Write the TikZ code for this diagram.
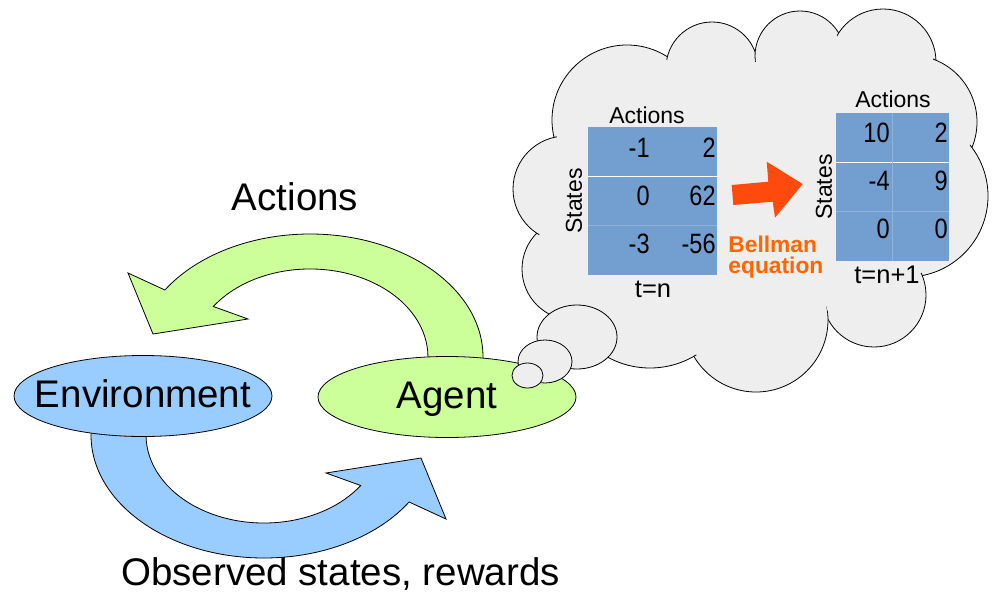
\documentclass[tikz,border=0pt]{standalone}
\usepackage{fontspec}
\setmainfont{Liberation Sans}
\newfontfamily\cellfont[FakeStretch=0.84]{Liberation Sans}
\usetikzlibrary{shapes.geometric,positioning,calc}

\definecolor{agentgreen}{HTML}{CCFF99}
\definecolor{envblue}{HTML}{99CCFF}
\definecolor{cloudgray}{HTML}{EEEEEE}
\definecolor{qblue}{HTML}{729FCF}
\definecolor{qline}{HTML}{8DB4DE}
\definecolor{bellman}{HTML}{FF6600}
\definecolor{redorange}{HTML}{FF4A0E}

\tikzset{
  actor/.style={ellipse, draw, minimum width=258pt, minimum height=81pt, inner sep=0pt,
    text height=28pt, text depth=6pt, font=\fontsize{38.5}{46}\selectfont},
  bigtext/.style={inner sep=0pt, font=\fontsize{38.5}{46}\selectfont},
  bubble/.style={ellipse, draw, fill=cloudgray, inner sep=0pt},
  qtable/.style={fill=qblue, inner sep=0pt},
  qlabel/.style={inner sep=0pt, font=\fontsize{23}{27}\selectfont},
  tlabel/.style={inner sep=0pt, font=\fontsize{25.5}{30}\selectfont},
  qcell/.style={anchor=base east, inner sep=0pt, font=\cellfont\fontsize{28}{32}\selectfont},
}

\begin{document}
\begin{tikzpicture}[x=1pt, y=-1pt, line width=0.8pt]
\useasboundingbox (0,0) rectangle (995,594);

% thought cloud
\foreach \cx/\cy/\r in {627/120/75, 712/68/46, 800/56/45, 883/62/53, 910/122/67, 907/196/81,
    874/295/52, 756/320/72, 650/280/88, 573/269/51, 566/189/53}
  \draw[fill=cloudgray] (\cx,\cy) circle[radius=\r pt];
\fill[cloudgray] (627,120) -- (712,68) -- (800,56) -- (883,62) -- (910,122) -- (907,196)
  -- (874,295) -- (756,320) -- (650,280) -- (573,269) -- (566,189) -- cycle;
\foreach \cx/\cy/\r in {627/120/75, 712/68/46, 800/56/45, 883/62/53, 910/122/67, 907/196/81,
    874/295/52, 756/320/72, 650/280/88, 573/269/51, 566/189/53}
  \fill[cloudgray] (\cx,\cy) circle[radius=\r pt-3pt];

% the two loop arrows
\foreach \col/\ang in {agentgreen/0, envblue/180}
  \draw[fill=\col, rotate around={\ang:(287,396)}] (483,368) -- (483,357)
    arc[start angle=0, end angle=147, x radius=173pt, y radius=123pt]
    -- (128,273) -- (153,334) -- (248,319) -- (213.3,306.5)
    arc[start angle=145, end angle=0, x radius=118pt, y radius=88pt]
    -- (428,368) -- cycle;

\node[actor, fill=envblue] (env) at (143,396) {\makebox[0pt]{Environment}};
\node[actor, fill=agentgreen] (agent) at (447,397) {\makebox[0pt]{Agent}};

\node[bubble, minimum width=80pt, minimum height=64pt] (think1) at (577,337) {};
\node[bubble, minimum width=54pt, minimum height=43pt] (think2) at (545,361.5) {};
\node[bubble, minimum width=31pt, minimum height=25pt] (think3) at (527.5,375.5) {};

\node[bigtext, anchor=base] (actlabel) at (295,210) {Actions};
\node[bigtext, anchor=base] (obslabel) at (340.5,585) {Observed states, rewards};

% Q tables
\node[qtable, minimum width=129pt, minimum height=148pt] (qold) at (652.5,201) {};
\node[qtable, minimum width=113pt, minimum height=148pt] (qnew) at (892.5,187) {};
\foreach \q in {qold, qnew} {
  \draw[white, line width=1.3pt] ($(\q.north west)!1/3!(\q.south west)$) -- ($(\q.north east)!1/3!(\q.south east)$);
  \draw[qline] ($(\q.north west)!2/3!(\q.south west)$) -- ($(\q.north east)!2/3!(\q.south east)$);
}
\draw[qline] (qnew.north) -- (qnew.south);

\foreach \a/\b [count=\i from 0] in {-1/2, 0/62, -3/-56} {
  \node[qcell] (old-\i-a) at (650,157+48*\i) {\a};
  \node[qcell] (old-\i-b) at (716,157+48*\i) {\b};
}
\foreach \a/\b [count=\i from 0] in {10/2, -4/9, 0/0} {
  \node[qcell] (new-\i-a) at (890,142+48*\i) {\a};
  \node[qcell] (new-\i-b) at (948,142+48*\i) {\b};
}

\node[qlabel, anchor=base] (oldact) at (647,123) {Actions};
\node[qlabel, anchor=base] (newact) at (893,107) {Actions};
\node[qlabel, rotate=90] (oldst) at (574,201) {States};
\node[qlabel, rotate=90] (newst) at (824,187) {States};
\node[tlabel, anchor=base] (oldt) at (653,297) {t=n};
\node[tlabel, anchor=base] (newt) at (887,283) {t=n+1};

% Bellman update
\fill[redorange] (731.7,185) -- (768.3,181.7) -- (766.7,161.7) -- (802.7,184)
  -- (775,217.7) -- (772.7,201.7) -- (733.3,205) -- cycle;
\node[anchor=base west, inner sep=0pt, align=left, text=bellman,
  font=\bfseries\fontsize{22.8}{21.5}\selectfont] (bell) at (728,273.5) {Bellman\\equation};
\end{tikzpicture}
\end{document}
